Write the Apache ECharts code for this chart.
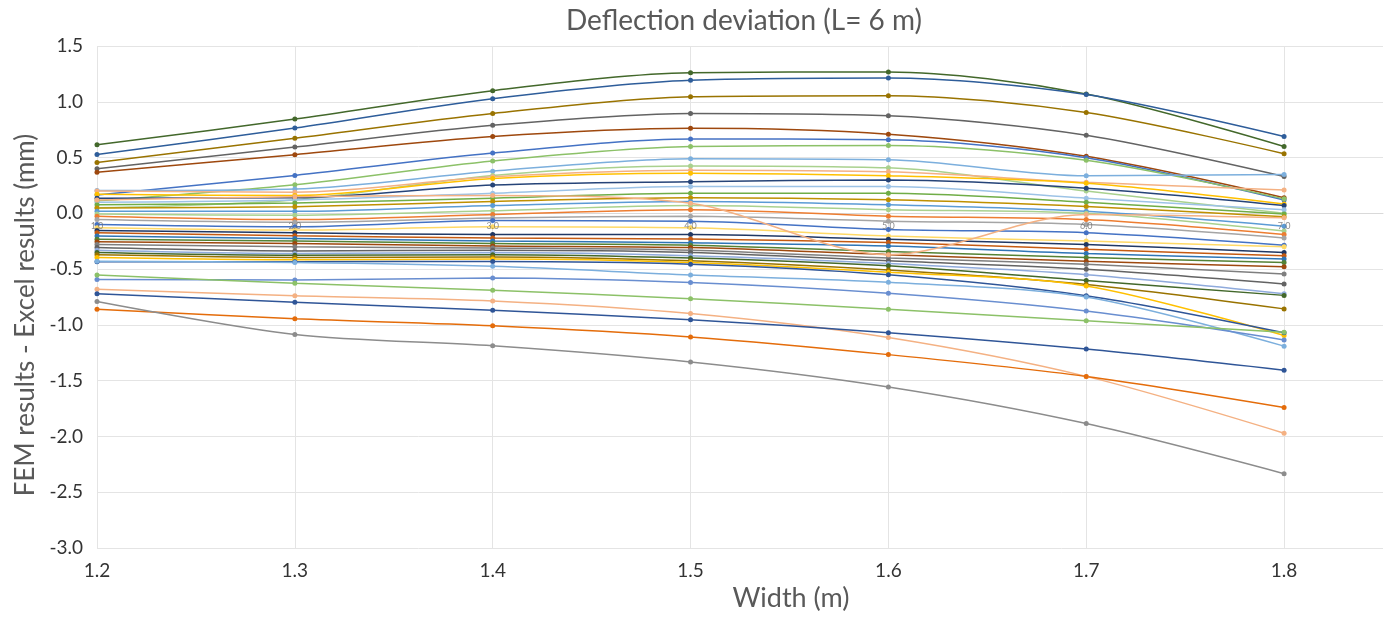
<!DOCTYPE html>
<html>
<head>
<meta charset="utf-8">
<script src="https://cdn.jsdelivr.net/npm/echarts@6/dist/echarts.min.js"></script>
<style>html,body{margin:0;padding:0;background:#fff}#chart{width:1388px;height:617px}</style>
</head>
<body>
<div id="chart"></div>
<script>
// ---- data ----
const widths = [1.2, 1.3, 1.4, 1.5, 1.6, 1.7, 1.8];
const xTickLabels = ['1.2', '1.3', '1.4', '1.5', '1.6', '1.7', '1.8'];
const markerLabels = ['1.0', '2.0', '3.0', '4.0', '5.0', '6.0', '7.0'];
const markerLabelLevel = [-0.115, -0.115, -0.115, -0.115, -0.115, -0.115, -0.115];

// upper lines
const up1 = [0.614, 0.845, 1.10, 1.26, 1.267, 1.07, 0.60];
const up2 = [0.528, 0.765, 1.028, 1.193, 1.214, 1.066, 0.688];
const up3 = [0.455, 0.673, 0.895, 1.046, 1.055, 0.904, 0.535];
const up4 = [0.399, 0.594, 0.789, 0.895, 0.874, 0.70, 0.33];
const up5 = [0.369, 0.526, 0.688, 0.762, 0.709, 0.511, 0.14];
const up6 = [0.165, 0.34, 0.54, 0.667, 0.659, 0.499, 0.12];
const up7 = [0.112, 0.257, 0.47, 0.60, 0.608, 0.475, 0.13];
const up8 = [0.204, 0.218, 0.378, 0.49, 0.481, 0.337, 0.349];
const up9 = [0.05, 0.12, 0.34, 0.425, 0.408, 0.20, 0.00];

// dense middle band
const m01 = [0.201, 0.19, 0.328, 0.387, 0.372, 0.278, 0.21];
const m02 = [0.171, 0.16, 0.313, 0.36, 0.337, 0.269, 0.083];
const m03 = [0.136, 0.14, 0.254, 0.284, 0.298, 0.225, 0.07];
const m04 = [0.10, 0.12, 0.18, 0.24, 0.24, 0.136, 0.033];
const m05 = [0.077, 0.092, 0.136, 0.18, 0.18, 0.10, -0.006];
const m06 = [0.047, 0.06, 0.107, 0.14, 0.121, 0.062, -0.03];
const m07 = [0.018, 0.018, 0.07, 0.107, 0.077, 0.018, -0.115];
const m08 = [-0.006, -0.017, 0.024, 0.07, 0.033, 0.0, -0.159];
const m09 = [-0.026, -0.056, -0.01, 0.033, -0.026, -0.056, -0.19];
const m10 = [-0.056, -0.08, -0.041, -0.026, -0.07, -0.10, -0.22];
const m11 = [-0.10, -0.12, -0.065, -0.07, -0.145, -0.174, -0.286];
const m12 = [-0.13, -0.15, -0.12, -0.13, -0.203, -0.248, -0.30];
const m13 = [-0.153, -0.174, -0.19, -0.19, -0.233, -0.28, -0.351];
const m14 = [-0.174, -0.20, -0.22, -0.23, -0.26, -0.322, -0.38];
const m15 = [-0.203, -0.225, -0.248, -0.263, -0.292, -0.36, -0.41];
const m16 = [-0.233, -0.248, -0.27, -0.285, -0.342, -0.395, -0.44];
const m17 = [-0.254, -0.27, -0.292, -0.307, -0.37, -0.43, -0.478];
const m18 = [-0.278, -0.30, -0.31, -0.33, -0.40, -0.455, -0.543];
const m19 = [-0.307, -0.337, -0.33, -0.35, -0.425, -0.50, -0.632];
const m20 = [-0.331, -0.36, -0.351, -0.38, -0.45, -0.55, -0.72];
const m21 = [-0.351, -0.375, -0.37, -0.40, -0.47, -0.602, -0.735];
const m22 = [-0.372, -0.395, -0.39, -0.425, -0.508, -0.637, -0.856];
const m23 = [-0.395, -0.415, -0.41, -0.44, -0.528, -0.65, -1.095];
const m24 = [-0.434, -0.434, -0.431, -0.455, -0.55, -0.738, -1.07];
const mOdd = [0.12, 0.15, 0.16, 0.09, -0.37, -0.01, -0.04];

// lower lines
const lo1 = [-0.43, -0.44, -0.475, -0.552, -0.617, -0.75, -1.19];
const lo2 = [-0.593, -0.597, -0.579, -0.62, -0.717, -0.876, -1.134];
const lo3 = [-0.552, -0.626, -0.69, -0.765, -0.859, -0.962, -1.065];
const lo4 = [-0.679, -0.738, -0.785, -0.898, -1.113, -1.461, -1.97];
const lo5 = [-0.72, -0.797, -0.868, -0.953, -1.069, -1.216, -1.405];
const lo6 = [-0.859, -0.945, -1.007, -1.107, -1.266, -1.461, -1.739];
const lo7 = [-0.79, -1.086, -1.187, -1.332, -1.556, -1.884, -2.333];

const allLines = [up1, up2, up3, up4, up5, up6, up7, up8, up9,
  m01, m02, m03, m04, m05, m06, m07, m08, m09, m10, m11, m12, m13, m14, m15, m16,
  m17, m18, m19, m20, m21, m22, m23, m24, mOdd,
  lo1, lo2, lo3, lo4, lo5, lo6, lo7];

// ---- styles ----
const lineColors = ['#43682B', '#2E5D9A', '#997300', '#636363', '#9E480E', '#4472C4', '#8CC168', '#7CAFDD', '#A9D18E',
  '#F4B183', '#FFC000', '#264478', '#9DC3E6', '#70AD47', '#BF9000', '#5B9BD5', '#A9D18E', '#ED7D31', '#A5A5A5', '#4472C4', '#FFD966',
  '#203864', '#C55A11', '#2E75B6', '#548235', '#9E480E', '#7F7F7F', '#636363', '#8FAADC', '#43682B', '#997300', '#FFC000', '#2F5597', '#F4B183',
  '#7CAFDD', '#698ED0', '#8CC168', '#F4B183', '#2F5597', '#E46C0A', '#8C8C8C'];

const FONT = 'Lato, "Open Sans", sans-serif';
const chart = echarts.init(document.getElementById('chart'), null, {renderer: 'canvas'});

const series = allLines.map((vals, i) => ({
  type: 'line',
  name: 'S' + (i + 1),
  data: widths.map((w, j) => [w, vals[j]]),
  smooth: 0.3,
  symbol: 'circle',
  symbolSize: 5,
  showSymbol: true,
  color: lineColors[i],
  lineStyle: {width: 1.5, color: lineColors[i]},
  itemStyle: {color: lineColors[i]},
  emphasis: {disabled: true},
  silent: true
}));

series.push({
  type: 'scatter',
  name: 'labels',
  data: widths.map((w, j) => [w, markerLabelLevel[j]]),
  symbol: 'circle',
  symbolSize: 2,
  itemStyle: {color: 'rgba(0,0,0,0)'},
  label: {
    show: true,
    position: 'inside',
    formatter: p => markerLabels[p.dataIndex],
    fontSize: 9,
    color: '#6e6e6e',
    fontFamily: FONT
  },
  silent: true,
  z: 10
});

chart.setOption({
  animation: false,
  backgroundColor: '#fff',
  title: {
    text: 'Deflection deviation (L= 6 m)',
    left: 561,
    top: 2,
    textStyle: {fontSize: 28, fontWeight: 'normal', color: '#595959', fontFamily: FONT}
  },
  grid: {left: 97, right: 5, top: 46, bottom: 63, containLabel: false},
  xAxis: {
    type: 'value',
    min: 1.2,
    max: 1.85,
    interval: 0.1,
    name: 'Width (m)',
    nameLocation: 'middle',
    nameGap: 30,
    nameTextStyle: {fontSize: 27, color: '#595959', fontFamily: FONT, padding: [0, 0, 0, 102]},
    axisLine: {show: true, lineStyle: {color: '#d9d9d9'}},
    axisTick: {show: false},
    axisLabel: {
      fontSize: 19, color: '#333333', fontFamily: FONT, margin: 13,
      formatter: v => { const s = v.toFixed(1); return (Math.abs(v * 10 - Math.round(v * 10)) < 1e-6 && xTickLabels.includes(s)) ? s : ''; }
    },
    splitLine: {show: true, lineStyle: {color: ['#e4e4e4', '#e4e4e4', '#e4e4e4', '#e4e4e4', '#e4e4e4', '#e4e4e4', '#e4e4e4', 'rgba(0,0,0,0)'], width: 1}}
  },
  yAxis: {
    type: 'value',
    min: -3,
    max: 1.5,
    interval: 0.5,
    name: 'FEM results - Excel results (mm)',
    nameLocation: 'middle',
    nameGap: 53,
    nameTextStyle: {fontSize: 26, color: '#595959', fontFamily: FONT, padding: [0, 36, 0, 0]},
    axisLine: {show: false},
    axisTick: {show: false},
    axisLabel: {fontSize: 19, color: '#333333', fontFamily: FONT, margin: 14, formatter: v => v.toFixed(1)},
    splitLine: {show: true, lineStyle: {color: '#e4e4e4', width: 1}}
  },
  series: series
});
</script>
</body>
</html>
